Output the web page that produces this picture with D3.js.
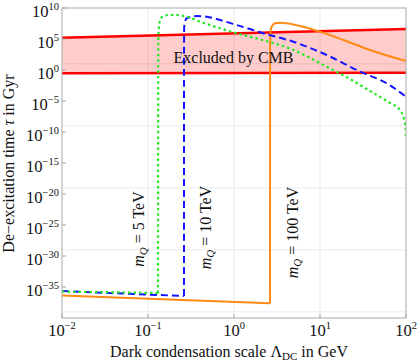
<!DOCTYPE html>
<html><head><meta charset="utf-8">
<script src="https://cdn.jsdelivr.net/npm/d3@7"></script>
<style>
body{margin:0;background:#fff}
svg{display:block}
text{font-family:"Liberation Serif","Times New Roman",serif;fill:#111}
</style>
</head><body>
<svg id="c" width="417" height="364"></svg>
<script>
// ---- data (x: Lambda_DC in GeV, y: tau in Gyr) ----
const xTickExp = [-2, -1, 0, 1, 2];
const yTickExp = [10, 5, 0, -5, -10, -15, -20, -25, -30, -35];
const yGridExp = [1, -9, -19, -29, -39];

const base5X = [0.01, 0.1306];
const base5Y = [1.86e-36, 1.07e-36];
const peak5X = [0.1306, 0.1318, 0.1352, 0.1442, 0.1722, 0.2158, 0.2818, 0.4027, 0.687, 1.074, 2.004, 4.9, 11.97, 22.3, 38.1, 65.2, 85.1, 94.8, 98.6, 100];
const peak5Y = [1.07e-36, 6.9e4, 3.4e7, 3.2e8, 7.4e8, 7.4e8, 4.0e8, 6.2e7, 5.4e6, 8.3e5, 8.9e4, 1.7e3, 3.4, 0.0355, 4.1e-4, 4.8e-6, 3.5e-7, 1.26e-8, 4.5e-10, 1.07e-11];

const base10X = [0.01, 0.262];
const base10Y = [2.2e-36, 3.5e-37];
const peak10X = [0.262, 0.2625, 0.2636, 0.2818, 0.368, 0.482, 0.687, 1.074, 1.66, 2.004, 4.9, 11.97, 29.2, 59.7, 100];
const peak10Y = [3.5e-37, 1e4, 9.5e6, 2.2e8, 5.1e8, 4.0e8, 1.15e8, 1.8e7, 2.8e6, 1.2e6, 3.6e4, 263, 0.54, 7.1e-3, 4.9e-5];

const base100X = [0.01, 2.62];
const base100Y = [4.3e-37, 2.3e-38];
const peak100X = [2.62, 2.63, 2.69, 3.0, 3.43, 4.1, 5.85, 10, 18.7, 38.1, 100];
const peak100Y = [2.3e-38, 1e4, 5.4e6, 3.4e7, 4.3e7, 3.4e7, 1.26e7, 1.5e6, 6.9e4, 1.7e3, 28];

const cmbX = [0.01, 100];
const cmbUpperY = [1.6e5, 4.1e6];
const cmbLowerY = [0.295, 0.363];

// ---- layout ----
const svg = d3.select("#c");
const L = 62, R = 406, T = 8, B = 318;
const x = d3.scaleLog().domain([1e-2, 1e2]).range([L, R]);
const y = d3.scaleLog().domain([1e-40, 1e10]).range([B, T]);

const zip = (a, b) => a.map((v, i) => [v, b[i]]);

// grid
svg.append("g").selectAll("line").data([-1, 0, 1]).join("line")
  .attr("x1", d => x(Math.pow(10, d))).attr("x2", d => x(Math.pow(10, d)))
  .attr("y1", T).attr("y2", B).attr("stroke", "#ebebeb").attr("stroke-width", 1);
svg.append("g").selectAll("line").data(yGridExp).join("line")
  .attr("y1", d => y(Math.pow(10, d))).attr("y2", d => y(Math.pow(10, d)))
  .attr("x1", L).attr("x2", R).attr("stroke", "#ebebeb").attr("stroke-width", 1);

// CMB band
const band = d3.area().x(d => x(d[0])).y0(d => y(d[2])).y1(d => y(d[1]));
svg.append("path").datum(cmbX.map((v, i) => [v, cmbUpperY[i], cmbLowerY[i]]))
  .attr("d", band).attr("fill", "#ff0000").attr("fill-opacity", 0.2);

const lin = d3.line().x(d => x(d[0])).y(d => y(d[1]));
const mono = d3.line().x(d => x(d[0])).y(d => y(d[1])).curve(d3.curveMonotoneX);

svg.append("path").datum(zip(cmbX, cmbUpperY)).attr("d", lin)
  .attr("fill", "none").attr("stroke", "#ff0000").attr("stroke-width", 2.6);
svg.append("path").datum(zip(cmbX, cmbLowerY)).attr("d", lin)
  .attr("fill", "none").attr("stroke", "#ff0000").attr("stroke-width", 2.6);

// clip
svg.append("clipPath").attr("id", "clip").append("rect")
  .attr("x", L).attr("y", T).attr("width", R - L).attr("height", B - T);
const g = svg.append("g").attr("clip-path", "url(#clip)");

function curve(bx, by, px, py, color, dash, w) {
  g.append("path").datum(zip(bx, by)).attr("d", lin)
    .attr("fill", "none").attr("stroke", color).attr("stroke-width", w)
    .attr("stroke-dasharray", dash);
  g.append("path").datum(zip(px, py)).attr("d", mono)
    .attr("fill", "none").attr("stroke", color).attr("stroke-width", w)
    .attr("stroke-dasharray", dash);
}
curve(base100X, base100Y, peak100X, peak100Y, "#ff8a14", null, 2);
curve(base10X, base10Y, peak10X, peak10Y, "#1414ff", "7,4", 2);
curve(base5X, base5Y, peak5X, peak5Y, "#22e822", "2.5,3", 2.2);

// frame
svg.append("rect").attr("x", L).attr("y", T).attr("width", R - L).attr("height", B - T)
  .attr("fill", "none").attr("stroke", "#a8a8a8").attr("stroke-width", 1);

// ticks
svg.append("g").selectAll("line").data(xTickExp).join("line")
  .attr("x1", d => x(Math.pow(10, d))).attr("x2", d => x(Math.pow(10, d)))
  .attr("y1", B).attr("y2", B - 4).attr("stroke", "#a8a8a8");
svg.append("g").selectAll("line").data(yTickExp).join("line")
  .attr("y1", d => y(Math.pow(10, d))).attr("y2", d => y(Math.pow(10, d)))
  .attr("x1", L).attr("x2", L + 4).attr("stroke", "#a8a8a8");

const fmt = e => (e < 0 ? "\u2212" + Math.abs(e) : String(e));

// x tick labels
xTickExp.forEach(e => {
  const t = svg.append("text").attr("x", x(Math.pow(10, e))).attr("y", 336)
    .attr("text-anchor", "middle").attr("font-size", 16.5);
  t.append("tspan").text("10");
  t.append("tspan").attr("dy", -7).attr("font-size", 10.5).text(fmt(e));
});
// y tick labels
yTickExp.forEach(e => {
  const t = svg.append("text").attr("x", 59).attr("y", y(Math.pow(10, e)) + 9)
    .attr("text-anchor", "end").attr("font-size", 16.5);
  t.append("tspan").text("10");
  t.append("tspan").attr("dy", -7).attr("font-size", 10.5).text(fmt(e));
});

// axis labels
const xl = svg.append("text").attr("x", 229).attr("y", 357).attr("text-anchor", "middle").attr("font-size", 16);
xl.append("tspan").text("Dark condensation scale \u039B");
xl.append("tspan").attr("dy", 3).attr("font-size", 11).text("DC");
xl.append("tspan").attr("dy", -3).text(" in GeV");

const yl = svg.append("text").attr("transform", "translate(14,163.5) rotate(-90)")
  .attr("text-anchor", "middle").attr("font-size", 16);
yl.append("tspan").text("De\u2212excitation time ");
yl.append("tspan").attr("font-style", "italic").text("\u03C4");
yl.append("tspan").text(" in Gyr");

// band label
svg.append("text").attr("x", 233.5).attr("y", 62.5).attr("text-anchor", "middle")
  .attr("font-size", 16).text("Excluded by CMB");

// mass labels
const massLabels = ["5", "10", "100"];
const massPos = [[144, 229], [211, 227.5], [298, 232.5]];
massLabels.forEach((m, i) => {
  const t = svg.append("text")
    .attr("transform", `translate(${massPos[i][0]},${massPos[i][1]}) rotate(-90)`)
    .attr("text-anchor", "middle").attr("font-size", 16);
  t.append("tspan").attr("font-style", "italic").text("m");
  t.append("tspan").attr("font-style", "italic").attr("font-size", 11).attr("dy", 3).text("Q");
  t.append("tspan").attr("dy", -3).text(" = " + m + " TeV");
});
</script>
</body></html>
